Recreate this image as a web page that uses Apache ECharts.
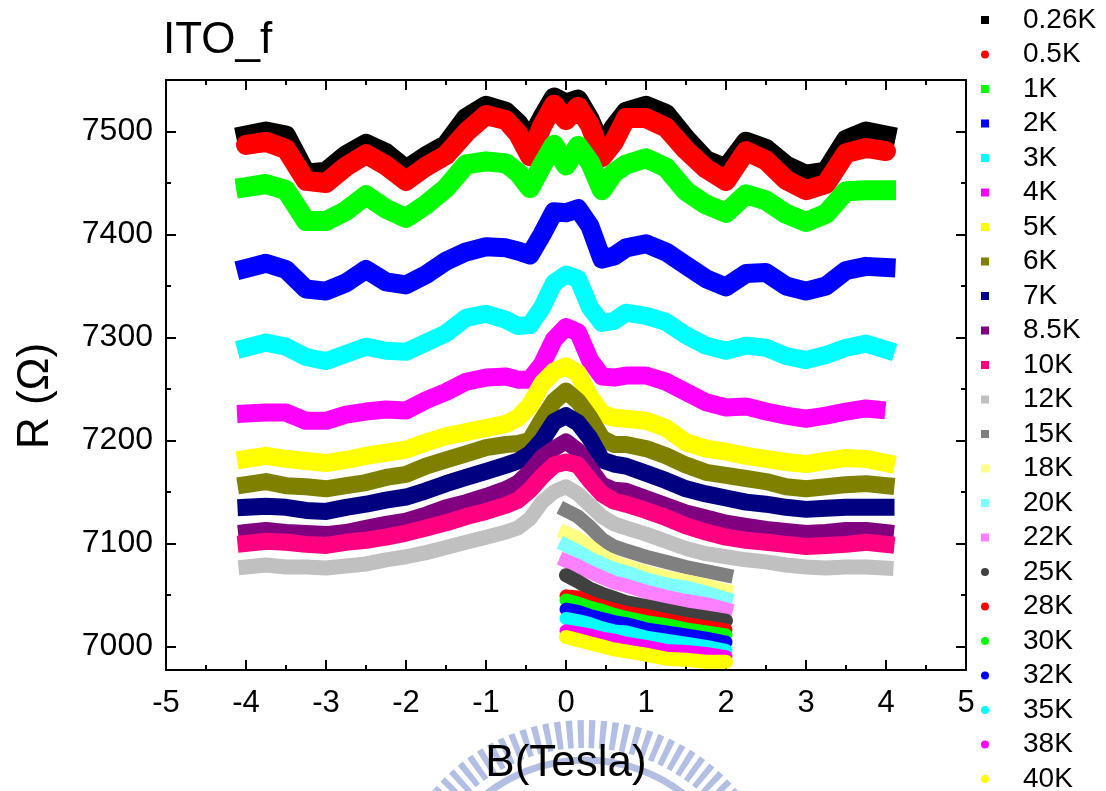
<!DOCTYPE html>
<html>
<head>
<meta charset="utf-8">
<script src="https://cdn.jsdelivr.net/npm/echarts@6/dist/echarts.min.js"></script>
<style>
  html, body { margin: 0; padding: 0; background: #ffffff; }
  #chart { width: 1106px; height: 791px; }
</style>
</head>
<body>
<div id="chart"></div>
<script>
// ---- data: magnetoresistance R(B) of sample ITO_f at several temperatures ----
const B_FULL = [-4, -3.75, -3.5, -3.25, -3, -2.75, -2.5, -2.25, -2, -1.75, -1.5, -1.25, -1, -0.75, -0.6, -0.45, -0.3, -0.15,
  0, 0.15, 0.3, 0.45, 0.6, 0.75, 1, 1.25, 1.5, 1.75, 2, 2.25, 2.5, 2.75, 3, 3.25, 3.5, 3.75, 4];
const B_4K = [-4, -3.75, -3.5, -3.25, -3, -2.75, -2.5, -2.25, -2, -1.75, -1.5, -1.25, -1, -0.75, -0.6, -0.45, -0.3, -0.15,
  0, 0.15, 0.3, 0.45, 0.6, 0.75, 1, 1.25, 1.5, 1.75, 2, 2.25, 2.5, 2.75, 3, 3.25, 3.5, 3.75, 3.88];
const B_SHORT = [0, 0.15, 0.3, 0.45, 0.6, 0.75, 1, 1.25, 1.5, 1.75, 2];

const R_026K = [7496, 7500, 7496, 7459, 7461, 7477, 7488, 7479, 7463, 7476, 7487, 7513, 7525, 7519, 7508, 7491, 7513, 7533,
  7527, 7531, 7511, 7484, 7504, 7519, 7525, 7517, 7493, 7472, 7464, 7490, 7483, 7467, 7458, 7461, 7492, 7500, 7496];
const R_05K = [7487, 7490, 7483, 7452, 7450, 7466, 7478, 7467, 7452, 7466, 7477, 7499, 7516, 7511, 7498, 7476, 7505, 7526,
  7511, 7524, 7506, 7475, 7490, 7513, 7513, 7504, 7482, 7464, 7452, 7481, 7472, 7453, 7443, 7449, 7479, 7484, 7481];
const R_1K = [7446, 7449, 7443, 7413, 7413, 7423, 7438, 7425, 7416, 7429, 7445, 7468, 7471, 7469, 7460, 7445, 7467, 7487,
  7467, 7486, 7470, 7443, 7460, 7468, 7474, 7465, 7442, 7429, 7421, 7439, 7433, 7420, 7412, 7420, 7442, 7443, 7443];
const R_2K = [7367, 7372, 7366, 7347, 7345, 7353, 7366, 7354, 7351, 7361, 7374, 7383, 7388, 7387, 7384, 7380, 7400, 7422,
  7421, 7425, 7408, 7376, 7379, 7387, 7391, 7383, 7370, 7357, 7349, 7362, 7363, 7350, 7345, 7350, 7365, 7369, 7368];
const R_3K = [7290, 7295, 7291, 7281, 7277, 7284, 7291, 7287, 7286, 7295, 7304, 7319, 7323, 7317, 7311, 7312, 7329, 7353,
  7361, 7357, 7329, 7314, 7316, 7324, 7321, 7315, 7302, 7292, 7287, 7292, 7290, 7282, 7278, 7283, 7290, 7294, 7288];
const R_4K = [7226, 7227, 7227, 7219, 7219, 7225, 7228, 7230, 7229, 7239, 7247, 7257, 7261, 7262, 7259, 7259, 7274, 7298,
  7310, 7305, 7278, 7262, 7261, 7263, 7263, 7257, 7247, 7237, 7232, 7233, 7228, 7224, 7221, 7224, 7228, 7231, 7230];
const R_5K = [7182, 7185, 7182, 7180, 7178, 7181, 7185, 7188, 7191, 7198, 7204, 7208, 7212, 7216, 7222, 7234, 7255, 7267,
  7272, 7265, 7242, 7226, 7222, 7221, 7219, 7212, 7198, 7192, 7189, 7185, 7182, 7179, 7177, 7180, 7183, 7182, 7178];
const R_6K = [7157, 7160, 7156, 7155, 7153, 7156, 7159, 7164, 7167, 7175, 7181, 7187, 7193, 7196, 7197, 7200, 7220, 7238,
  7248, 7238, 7222, 7202, 7196, 7196, 7192, 7185, 7176, 7169, 7166, 7163, 7160, 7155, 7153, 7155, 7157, 7158, 7156];
const R_7K = [7135, 7136, 7135, 7132, 7131, 7135, 7138, 7142, 7145, 7151, 7158, 7164, 7170, 7176, 7180, 7187, 7200, 7218,
  7224, 7217, 7202, 7181, 7177, 7175, 7168, 7161, 7153, 7148, 7144, 7140, 7138, 7135, 7133, 7134, 7135, 7135, 7135];
const R_85K = [7111, 7113, 7111, 7110, 7109, 7111, 7115, 7119, 7122, 7128, 7135, 7140, 7146, 7153, 7159, 7170, 7184, 7192,
  7199, 7190, 7173, 7157, 7152, 7151, 7144, 7137, 7130, 7125, 7120, 7117, 7114, 7112, 7110, 7111, 7113, 7113, 7111];
const R_10K = [7100, 7102, 7101, 7099, 7098, 7101, 7103, 7106, 7110, 7115, 7120, 7126, 7131, 7137, 7142, 7152, 7165, 7176,
  7179, 7176, 7161, 7148, 7141, 7138, 7132, 7125, 7117, 7111, 7106, 7103, 7101, 7099, 7097, 7098, 7099, 7101, 7099];
const R_12K = [7077, 7079, 7077, 7077, 7076, 7078, 7080, 7084, 7087, 7091, 7096, 7101, 7106, 7111, 7115, 7124, 7140, 7150,
  7155, 7148, 7137, 7126, 7119, 7115, 7109, 7102, 7095, 7090, 7087, 7084, 7082, 7079, 7077, 7076, 7077, 7077, 7076];
const R_15K = [7132, 7126, 7116, 7104, 7097, 7093, 7087, 7082, 7077, 7073, 7069];
const R_18K = [7110, 7105, 7097, 7088, 7082, 7078, 7072, 7067, 7063, 7059, 7054];
const R_20K = [7098, 7092, 7085, 7080, 7075, 7072, 7065, 7060, 7057, 7052, 7046];
const R_22K = [7083, 7078, 7072, 7067, 7062, 7059, 7053, 7048, 7044, 7041, 7036];
const R_25K = [7069, 7063, 7056, 7051, 7047, 7043, 7039, 7035, 7031, 7028, 7025];
const R_28K = [7049, 7048, 7043, 7039, 7036, 7033, 7030, 7026, 7022, 7019, 7016];
const R_30K = [7045, 7042, 7038, 7035, 7031, 7028, 7024, 7021, 7017, 7014, 7011];
const R_32K = [7036, 7034, 7030, 7027, 7024, 7022, 7017, 7014, 7011, 7008, 7004];
const R_35K = [7027, 7025, 7022, 7018, 7015, 7014, 7009, 7006, 7003, 7000, 6996];
const R_38K = [7015, 7013, 7011, 7008, 7006, 7003, 7000, 6996, 6995, 6993, 6990];
const R_40K = [7009, 7006, 7003, 7000, 6997, 6995, 6992, 6988, 6987, 6985, 6985];

const TEMPS = ['0.26K', '0.5K', '1K', '2K', '3K', '4K', '5K', '6K', '7K', '8.5K', '10K', '12K',
  '15K', '18K', '20K', '22K', '25K', '28K', '30K', '32K', '35K', '38K', '40K'];
const FIELDS = [B_FULL, B_FULL, B_FULL, B_FULL, B_FULL, B_4K, B_FULL, B_FULL, B_FULL, B_FULL, B_FULL, B_FULL,
  B_SHORT, B_SHORT, B_SHORT, B_SHORT, B_SHORT, B_SHORT, B_SHORT, B_SHORT, B_SHORT, B_SHORT, B_SHORT];
const RESIST = [R_026K, R_05K, R_1K, R_2K, R_3K, R_4K, R_5K, R_6K, R_7K, R_85K, R_10K, R_12K,
  R_15K, R_18K, R_20K, R_22K, R_25K, R_28K, R_30K, R_32K, R_35K, R_38K, R_40K];

const X_MIN = -5, X_MAX = 5;
const Y_MIN = 6977, Y_MAX = 7550;
const Y_MAJOR = [7000, 7100, 7200, 7300, 7400, 7500];
const Y_MINOR = [7050, 7150, 7250, 7350, 7450];

// ---- styles ----
const COLORS = ['#000000', '#ff0000', '#00ff00', '#0000ff', '#00ffff', '#ff00ff', '#ffff00', '#808000', '#000080',
  '#800080', '#ff0080', '#c0c0c0', '#808080', '#ffff80', '#80ffff', '#ff80ff', '#404040', '#ff0000', '#00ff00',
  '#0000ff', '#00ffff', '#ff00ff', '#ffff00'];
const MARKERS = ['rect', 'circle', 'rect', 'rect', 'rect', 'rect', 'rect', 'rect', 'rect', 'rect', 'rect', 'rect',
  'rect', 'rect', 'rect', 'rect', 'circle', 'circle', 'circle', 'circle', 'circle', 'circle', 'circle'];
const WIDTHS = [20, 20, 20, 19, 18, 18, 18, 17, 17, 16, 17, 15, 14, 14, 14, 14, 14, 13, 13, 13, 13, 13, 14];

const FONT = '"Liberation Sans", Arial, Helvetica, sans-serif';
const INK = '#000000';

const series = TEMPS.map((name, i) => ({
  name: name,
  type: 'line',
  xAxisIndex: 0,
  yAxisIndex: 0,
  data: FIELDS[i].map((b, k) => [b, RESIST[i][k]]),
  showSymbol: false,
  symbol: 'none',
  smooth: false,
  animation: false,
  itemStyle: { color: COLORS[i] },
  lineStyle: {
    color: COLORS[i],
    width: WIDTHS[i],
    cap: MARKERS[i] === 'circle' ? 'round' : 'square',
    join: 'round'
  },
  emphasis: { disabled: true }
}));

const tickLine = { color: INK, width: 2 };
const axisLine = { show: true, onZero: false, lineStyle: { color: INK, width: 2 } };
const noLine = { show: false, onZero: false };

function xAxisCfg(pos, labels) {
  return {
    type: 'value', position: pos, min: X_MIN, max: X_MAX, interval: 1,
    axisLine: axisLine,
    axisTick: { show: true, inside: true, length: 10, lineStyle: tickLine },
    minorTick: { show: true, splitNumber: 2, length: 5, lineStyle: tickLine },
    splitLine: { show: false },
    minorSplitLine: { show: false },
    axisLabel: labels
      ? { show: true, fontSize: 31, color: INK, fontFamily: FONT, margin: 18 }
      : { show: false },
    name: labels ? 'B(Tesla)' : '',
    nameLocation: 'middle',
    nameGap: 72,
    nameTextStyle: { fontSize: 44, color: INK, fontFamily: FONT }
  };
}

function yAxisCfg(pos, ticks, len, labels, line) {
  return {
    type: 'value', position: pos, min: Y_MIN, max: Y_MAX,
    axisLine: line ? axisLine : noLine,
    axisTick: { show: true, inside: true, length: len, lineStyle: tickLine, customValues: ticks },
    splitLine: { show: false },
    axisLabel: labels
      ? { show: true, fontSize: 32, color: INK, fontFamily: FONT, margin: 13, customValues: ticks,
          formatter: (v) => String(v) }
      : { show: false },
    name: labels ? 'R (\u03A9)' : '',
    nameLocation: 'middle',
    nameRotate: 90,
    nameGap: 108,
    nameTextStyle: { fontSize: 44, color: INK, fontFamily: FONT, padding: [0, 42, 0, 0] }
  };
}

const chart = echarts.init(document.getElementById('chart'), null, { renderer: 'canvas' });
chart.setOption({
  animation: false,
  backgroundColor: '#ffffff',
  title: {
    text: 'ITO_f',
    left: 163,
    top: 19,
    padding: 0,
    textStyle: { fontSize: 44, fontWeight: 'normal', color: INK, fontFamily: FONT }
  },
  grid: { left: 166, right: 140, top: 80, bottom: 119, containLabel: false },
  xAxis: [xAxisCfg('bottom', true), xAxisCfg('top', false)],
  yAxis: [
    yAxisCfg('left', Y_MAJOR, 10, true, true),
    yAxisCfg('right', Y_MAJOR, 10, false, true),
    yAxisCfg('left', Y_MINOR, 5, false, false),
    yAxisCfg('right', Y_MINOR, 5, false, false)
  ],
  legend: {
    orient: 'vertical',
    left: 981,
    top: 6,
    height: 790,
    padding: 0,
    itemWidth: 8,
    itemHeight: 8,
    itemGap: 6.5,
    selectedMode: false,
    data: TEMPS.map((n, i) => ({ name: n, icon: MARKERS[i] })),
    textStyle: { fontSize: 28, color: INK, fontFamily: FONT, padding: [0, 0, 0, 29] }
  },
  // faint circular emblem printed under the axis title
  graphic: [
    {
      type: 'circle', silent: true, z: -1,
      shape: { cx: 585, cy: 920, r: 186 },
      style: { fill: 'none', stroke: '#b3bfe2', lineWidth: 28, lineDash: [6, 5] }
    },
    {
      type: 'circle', silent: true, z: -1,
      shape: { cx: 585, cy: 920, r: 160 },
      style: { fill: 'none', stroke: '#b3bfe2', lineWidth: 7 }
    }
  ],
  series: series
});
</script>
</body>
</html>
